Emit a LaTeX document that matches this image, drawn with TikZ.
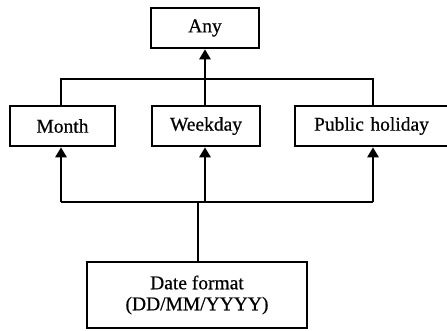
\documentclass[tikz,border=0pt]{standalone}
\usepackage{fontspec}
\setmainfont{Liberation Serif}
\newfontfamily\boxfont{Liberation Serif}[FakeBold=0.6]
\usetikzlibrary{arrows.meta}
\begin{document}
\begin{tikzpicture}[x=1pt,y=-1pt,
  box/.style={draw,line width=2.6pt,inner sep=0pt,font=\boxfont\fontsize{19.5}{21}\selectfont,align=center},
  conn/.style={line width=2.6pt},
  arr/.style={line width=2.6pt,-{Triangle[width=11pt,length=10pt]}}]
\useasboundingbox (0,0) rectangle (447,330);
\node[box,minimum width=108pt,minimum height=40pt] (any) at (205,28) {Any};
\node[box,minimum width=105pt,minimum height=40pt] (month) at (62.5,126) {Month};
\node[box,minimum width=108pt,minimum height=40pt] (week) at (206,126) {Weekday};
\node[box,minimum width=153pt,minimum height=40pt,text width=153pt] (pub) at (371.5,126) {Public holiday\hspace*{4pt}};
\node[box,minimum width=220pt,minimum height=66pt] (date) at (197,295) {Date format\\(DD/MM/YYYY)};
% top junction
\coordinate (tl) at (61,79);
\coordinate (tm) at (205,79);
\coordinate (tr) at (373,79);
\draw[conn] (month.north -| tl) -- (tl) -- (tr) -- (pub.north -| tr);
\draw[conn] (week.north -| tm) -- (tm);
\draw[arr] (tm) -- (any.south -| tm);
% bottom junction
\coordinate (bl) at (61,202);
\coordinate (bm) at (205,202);
\coordinate (bd) at (198,202);
\coordinate (br) at (373,202);
\draw[conn] (bl) -- (br);
\draw[conn] (date.north -| bd) -- (bd);
\draw[arr] (bl) -- (month.south -| bl);
\draw[arr] (bm) -- (week.south -| bm);
\draw[arr] (br) -- (pub.south -| br);
\end{tikzpicture}
\end{document}
